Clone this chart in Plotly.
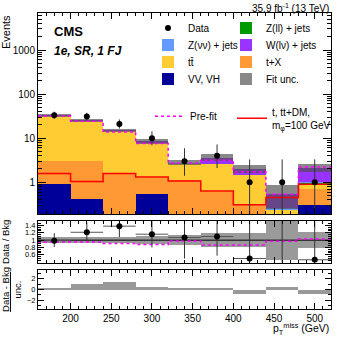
import numpy as np
import plotly.graph_objects as go
from plotly.subplots import make_subplots

# binning in pTmiss (GeV)
bin_edges = [160, 200, 240, 280, 320, 360, 400, 440, 480, 520]
bin_centers = [180, 220, 260, 300, 340, 380, 420, 460, 500]
bin_width = 40

data_obs = [33, 31, 21, 10, 3, 4, 1, 1, 1]
data_err_lo = [5.7, 5.5, 4.5, 3.1, 1.6, 1.9, 0.83, 0.83, 0.83]
data_err_hi = [6.8, 6.6, 5.6, 4.3, 2.9, 3.2, 2.3, 2.3, 2.3]

# post-fit backgrounds, bottom of the stack first
bkg_vv = [0.89, 0.41, 0.0, 0.53, 0.0, 0.0, 0.0, 0.0, 0.30]
bkg_tx = [2.1, 2.6, 1.5, 0.72, 1.11, 0.60, 0.30, 0.10, 0.42]
bkg_tt = [29.0, 21.4, 12.7, 6.35, 1.5, 1.96, 1.14, 0.13, 0.21]
bkg_zll = [0.10, 0.08, 0.05, 0.04, 0.02, 0.03, 0.02, 0.01, 0.02]
bkg_zvv = [0.20, 0.15, 0.10, 0.08, 0.04, 0.05, 0.03, 0.02, 0.04]
bkg_wlv = [1.2, 0.87, 0.85, 0.88, 0.13, 1.0, 0.51, 0.29, 1.16]

fit_unc_rel = [0.08, 0.08, 0.09, 0.12, 0.14, 0.18, 0.20, 0.55, 0.22]
prefit_over_postfit = [0.95, 0.95, 0.91, 0.88, 0.98, 0.87, 0.87, 0.97, 1.03]
signal = [1.58, 1.04, 1.58, 1.32, 1.07, 0.63, 0.31, 0.45, 0.90]
pull = [0.1, 1.05, 1.48, 0.55, 0.3, 0.37, -0.8, 0.55, -0.86]

FONT = 'Liberation Sans'

# name, values, colour, legend box
stack = [
    ('VV, VH', bkg_vv, '#000099', 'legend7'),
    ('t+X', bkg_tx, '#ff9933', 'legend6'),
    ('tt\u0304', bkg_tt, '#ffcc33', 'legend5'),
    ('Z(ll) + jets', bkg_zll, '#009900', 'legend2'),
    ('Z(\u03bd\u03bd) + jets', bkg_zvv, '#6699ff', 'legend3'),
    ('W(l\u03bd) + jets', bkg_wlv, '#9933ff', 'legend4'),
]

cum = np.cumsum([np.array(s[1]) for s in stack], axis=0)
total = cum[-1]
rel = np.array(fit_unc_rel)
data = np.array(data_obs, dtype=float)

fig = make_subplots(rows=3, cols=1, shared_xaxes=True)

# stacked histogram, drawn from the top of the stack downwards
for i in range(len(stack) - 1, -1, -1):
    name, _, color, leg = stack[i]
    fig.add_trace(go.Bar(x=bin_centers, y=cum[i], width=bin_width, name=name,
                         marker=dict(color=color, line=dict(width=0)), legend=leg), row=1, col=1)

fig.add_trace(go.Bar(x=bin_centers, y=2 * rel * total, base=total * (1 - rel), width=bin_width,
                     name='Fit unc.', marker=dict(color='rgba(80,80,80,0.68)', line=dict(width=0)),
                     legend='legend8'), row=1, col=1)

prefit = total * np.array(prefit_over_postfit)
fig.add_trace(go.Scatter(x=bin_edges, y=list(prefit) + [prefit[-1]], mode='lines', line_shape='hv',
                         line=dict(color='#ff00ff', dash='dot', width=1.5), name='Pre-fit',
                         legend='legend9'), row=1, col=1)
fig.add_trace(go.Scatter(x=bin_edges, y=signal + [signal[-1]], mode='lines', line_shape='hv',
                         line=dict(color='#ff0000', width=1.5),
                         name='t, tt+DM,<br>m<sub>\u03c6</sub>=100 GeV', legend='legend10'), row=1, col=1)

fig.add_trace(go.Scatter(x=bin_centers, y=data_obs, mode='markers', name='Data',
                         marker=dict(color='black', size=6),
                         error_y=dict(type='data', symmetric=False, array=data_err_hi,
                                      arrayminus=data_err_lo, color='#333', thickness=1, width=0),
                         legend='legend'), row=1, col=1)

# ratio panel
fig.add_trace(go.Bar(x=bin_centers, y=2 * rel, base=1 - rel, width=bin_width, showlegend=False,
                     marker=dict(color='rgba(120,120,120,0.75)', line=dict(width=0))), row=2, col=1)
fig.add_trace(go.Scatter(x=[bin_edges[0], bin_edges[-1]], y=[1, 1], mode='lines', showlegend=False,
                         line=dict(color='black', width=1)), row=2, col=1)
fig.add_trace(go.Scatter(x=bin_edges, y=prefit_over_postfit + [prefit_over_postfit[-1]], mode='lines',
                         line_shape='hv', showlegend=False,
                         line=dict(color='#ff00ff', dash='dot', width=1.5)), row=2, col=1)
fig.add_trace(go.Scatter(x=bin_centers, y=data / total, mode='markers', showlegend=False,
                         marker=dict(color='black', size=6),
                         error_y=dict(type='data', symmetric=False, array=np.array(data_err_hi) / total,
                                      arrayminus=np.array(data_err_lo) / total, color='#333',
                                      thickness=1, width=0),
                         error_x=dict(type='constant', value=bin_width / 2, color='#555',
                                      thickness=1, width=0)), row=2, col=1)

# pull panel
fig.add_trace(go.Bar(x=bin_centers, y=pull, width=bin_width, showlegend=False,
                     marker=dict(color='#999999', line=dict(width=0))), row=3, col=1)

axis_style = dict(showline=True, linecolor='black', linewidth=1, mirror='allticks',
                  ticks='inside', tickcolor='black', showgrid=False, zeroline=False,
                  automargin=False)
big_ticks = dict(family=FONT, size=10, color='black')
small_ticks = dict(family=FONT, size=7.5, color='black')

for r in (1, 2, 3):
    fig.update_xaxes(range=[160, 520], tick0=200, dtick=50, ticklen=6, tickfont=big_ticks,
                     minor=dict(ticks='inside', dtick=10, ticklen=3, tickcolor='black'),
                     showticklabels=(r == 3), row=r, col=1, **axis_style)

fig.update_yaxes(type='log', range=[-0.72, 3.84], tickvals=[1, 10, 100, 1000], ticklen=8,
                 tickfont=big_ticks,
                 minor=dict(ticks='inside', ticklen=4, tickcolor='black',
                            tickvals=[m * 10 ** e for e in range(-1, 4) for m in range(2, 10)]),
                 domain=[0.321, 1.0], row=1, col=1, **axis_style)
fig.update_yaxes(range=[0.39, 1.52], tickvals=[0.6, 0.8, 1, 1.2, 1.4],
                 ticktext=['0.6', '0.8', '1', '1.2', '1.4'], ticklen=6, tickfont=small_ticks,
                 minor=dict(ticks='inside', dtick=0.05, ticklen=3, tickcolor='black'),
                 title=dict(text='Data / Bkg', font=dict(family=FONT, size=9.5)),
                 domain=[0.157, 0.297], row=2, col=1, **axis_style)
fig.update_yaxes(range=[-3.6, 3.6], tickvals=[-2, 0, 2], ticklen=6, tickfont=small_ticks,
                 minor=dict(ticks='inside', dtick=1, ticklen=3, tickcolor='black'),
                 title=dict(text='<u>Data - Bkg</u><br>unc.', font=dict(family=FONT, size=9.5)),
                 domain=[0.0, 0.132], row=3, col=1, **axis_style)

leg_font = dict(family=FONT, size=10, color='black')
leg_common = dict(bgcolor='rgba(0,0,0,0)', font=leg_font, xanchor='left', yanchor='top',
                  orientation='v', itemwidth=30)
col1, col2 = 0.3754, 0.6416
rows_y = [0.9986, 0.9412, 0.8838, 0.8264]
fig.update_layout(
    width=349, height=338,
    margin=dict(l=38, r=18, t=13, b=29),
    barmode='overlay', bargap=0,
    plot_bgcolor='white', paper_bgcolor='white',
    font=dict(family=FONT, size=10, color='black'),
    legend=dict(x=col1, y=rows_y[0], **leg_common),
    legend2=dict(x=col2, y=rows_y[0], **leg_common),
    legend3=dict(x=col1, y=rows_y[1], **leg_common),
    legend4=dict(x=col2, y=rows_y[1], **leg_common),
    legend5=dict(x=col1, y=rows_y[2], **leg_common),
    legend6=dict(x=col2, y=rows_y[2], **leg_common),
    legend7=dict(x=col1, y=rows_y[3], **leg_common),
    legend8=dict(x=col2, y=rows_y[3], **leg_common),
    legend9=dict(x=0.3823, y=0.700, **leg_common),
    legend10=dict(x=0.6621, y=0.710, **leg_common),
)

ann = [
    dict(text='<b>CMS</b>', x=0.048, y=0.939, xanchor='left', yanchor='middle', font=dict(size=13)),
    dict(text='<b><i>1e, SR, 1 FJ</i></b>', x=0.048, y=0.872, xanchor='left', yanchor='middle',
         font=dict(size=12)),
    dict(text='35.9 fb<sup>-1</sup> (13 TeV)', x=1.0, y=1.044, xanchor='right', yanchor='top',
         font=dict(size=10)),
    dict(text='Events', x=-0.109, y=1.0, xanchor='center', yanchor='top', textangle=-90,
         font=dict(size=11)),
    dict(text='p<sub>T</sub><sup>miss</sup> (GeV)', x=1.0, y=-0.066, xanchor='right',
         yanchor='middle', font=dict(size=10.5)),
]
for a in ann:
    fig.add_annotation(xref='paper', yref='paper', showarrow=False, **a)

fig.write_html("out.html", config={'displayModeBar': False},
               post_script="document.body.style.margin='0px';")
